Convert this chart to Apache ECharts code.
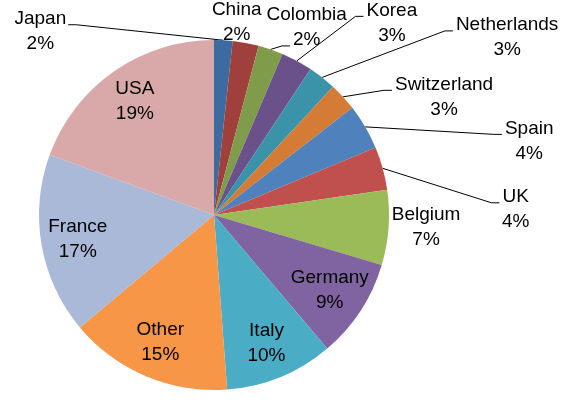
<!DOCTYPE html>
<html><head><meta charset="utf-8">
<script src="https://cdn.jsdelivr.net/npm/echarts@6/dist/echarts.min.js"></script>
<style>html,body{margin:0;padding:0;background:#fff}#c{width:562px;height:416px}</style>
</head><body><div id="c"></div>
<script>
// ---- data (clockwise from 12 o'clock) ----
const countries = ['Japan','China','Colombia','Korea','Netherlands','Switzerland','Spain','UK','Belgium','Germany','Italy','Other','France','USA'];
const shares = [1.7, 2.4, 2.3, 2.9, 2.6, 2.6, 4.2, 4.0, 6.9, 9.2, 10.0, 15.1, 16.7, 19.4];

// ---- styling ----
const sliceColors = ['#3D6BA0','#A0403D','#7F9C4B','#6A5189','#3B93AA','#D47C36','#4F81BD','#C0504D','#9BBB59','#8064A2','#4BACC6','#F79646','#A9B9D7','#D8A9A8'];
const insideLabels = ['Germany','Italy','Other','France','USA'];
const insideRadiusRatio = 0.79;
// label block offset from the slice's outer-arc midpoint (outside labels only)
const labelOffsets = {Japan:[-183,-9], China:[-9,-21], Colombia:[36,-22], Korea:[95,-38], Netherlands:[185,-40], Switzerland:[101,0], Spain:[164,14], UK:[133,41], Belgium:[37.5,-0.5]};
// text row the leader line attaches to
const leaderRow = {Japan:0, Colombia:1, Korea:0, Netherlands:0, Switzerland:0, Spain:0, UK:0};

const FONT_SIZE = 19, LINE_H = 25, FONT_FAMILY = '"Liberation Sans", Arial, sans-serif';
const CX = 214, CY = 215, R = 175;

const mctx = document.createElement('canvas').getContext('2d');
mctx.font = FONT_SIZE + 'px ' + FONT_FAMILY;
const tw = s => mctx.measureText(s).width;

const total = shares.reduce((a, b) => a + b, 0);
let cum = 0;
const midAngles = shares.map(v => { const m = (cum + v / 2) / total * 2 * Math.PI; cum += v; return m; });
const pctText = v => Math.round(v / total * 100) + '%';

const chart = echarts.init(document.getElementById('c'), null, {renderer: 'canvas'});
const data = countries.map((name, i) => {
  const inside = insideLabels.includes(name);
  const hasLine = leaderRow[name] !== undefined;
  return {
    name, value: shares[i],
    itemStyle: {color: sliceColors[i]},
    label: {position: inside ? 'inside' : 'outside'},
    labelLine: {show: hasLine}
  };
});

chart.setOption({
  animation: false,
  backgroundColor: '#fff',
  series: [{
    type: 'pie',
    center: [CX, CY],
    radius: R,
    startAngle: 90,
    clockwise: true,
    avoidLabelOverlap: false,
    emphasis: {disabled: true},
    itemStyle: {borderWidth: 0},
    label: {
      show: true,
      color: '#000',
      fontFamily: FONT_FAMILY,
      fontSize: FONT_SIZE,
      lineHeight: LINE_H,
      align: 'center',
      formatter: p => p.name + '\n' + Math.round(p.percent) + '%'
    },
    labelLine: {length: 10, length2: 10, lineStyle: {color: '#000', width: 1}},
    labelLayout: function (params) {
      const i = params.dataIndex;
      const name = countries[i];
      const m = midAngles[i];
      const s = Math.sin(m), c = Math.cos(m);
      if (insideLabels.includes(name)) {
        return {x: CX + insideRadiusRatio * R * s, y: CY - insideRadiusRatio * R * c, align: 'center', verticalAlign: 'middle'};
      }
      const ax = CX + R * s, ay = CY - R * c;
      const off = labelOffsets[name];
      const lx = ax + off[0], ly = ay + off[1];
      const res = {x: lx, y: ly, align: 'center', verticalAlign: 'middle'};
      const row = leaderRow[name];
      if (row !== undefined) {
        const txt = row === 0 ? name : pctText(shares[i]);
        const w = tw(txt);
        const rowCY = ly + (row === 0 ? -LINE_H / 2 : LINE_H / 2);
        const by = rowCY + 6;
        let ex, elx;
        if (lx > ax) { ex = lx - w / 2 - 3; elx = ex - 8; }
        else { ex = lx + w / 2 + 2; elx = ex + 8; }
        res.labelLinePoints = [[ax, ay], [elx, by], [ex, by]];
      }
      return res;
    },
    data
  }]
});
</script>
</body></html>
